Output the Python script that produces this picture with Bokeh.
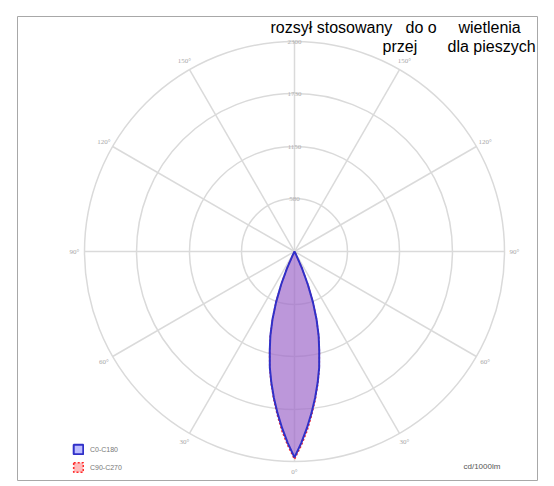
import numpy as np
from bokeh.plotting import figure
from bokeh.models import ColumnDataSource, Label, LabelSet, Range1d, Legend, LegendItem
from bokeh.embed import file_html
from bokeh.resources import INLINE

# ---- data ----
gamma_deg = [0, 2, 4, 6, 8, 10, 12, 14, 16, 18, 20, 22, 24, 26, 27]
i_c0_c180 = [2255, 2100, 1940, 1780, 1620, 1460, 1300, 1120, 960, 780, 590, 390, 200, 30, 0]
i_c90_c270 = [2275, 2125, 1970, 1800, 1635, 1470, 1305, 1125, 960, 780, 590, 390, 200, 30, 0]
ring_values = [580, 1150, 1730, 2300]
ring_labels = ["580", "1150", "1730", "2300"]
angle_values = [0, 30, 60, 90, 120, 150]
angle_labels = ["0°", "30°", "60°", "90°", "120°", "150°"]
series_names = ["C0-C180", "C90-C270"]
unit_label = "cd/1000lm"
title_line1 = ["rozsył stosowany", "do o", "wietlenia"]
title_line2 = ["przej", "dla pieszych"]

# ---- layout helpers (canvas pixel -> data) ----
R_PX = 210.0
K = ring_values[-1] / R_PX
CX, CY = 294.0, 251.0
def dx(px):
    return (px - CX) * K
def dy(py):
    return (CY - py) * K

W, H = 546, 482
FL, FT, FW, FH = 17, 16, 520, 464
p = figure(width=W, height=H, output_backend="svg", toolbar_location=None,
           x_range=Range1d(dx(FL), dx(FL + FW)), y_range=Range1d(dy(FT + FH), dy(FT)))
p.min_border_left = FL
p.min_border_top = FT
p.min_border_right = W - FL - FW
p.min_border_bottom = H - FT - FH
p.axis.visible = False
p.grid.visible = False
p.outline_line_color = "#a8a8a8"
p.outline_line_width = 1
p.background_fill_color = "white"
p.border_fill_color = "white"

grid_col = "#dadada"
# rings
p.circle(x=[0] * len(ring_values), y=[0] * len(ring_values), radius=ring_values,
         fill_color=None, line_color=grid_col, line_width=1.5)
# spokes
sp = np.radians(np.arange(0, 360, 30))
rmax = ring_values[-1]
p.segment(x0=[0] * len(sp), y0=[0] * len(sp), x1=list(rmax * np.sin(sp)), y1=list(-rmax * np.cos(sp)),
          line_color=grid_col, line_width=1.5)

# ring labels on the upward spoke
p.add_layout(LabelSet(source=ColumnDataSource(dict(x=[0] * 4, y=ring_values, t=ring_labels)),
                      x="x", y="y", text="t", text_align="center", text_baseline="middle",
                      text_font_size="7px", text_color="#b0b0b0", text_font="Liberation Sans"))

# angle labels both sides
R_LAB = 220 * K
ax, ay, at = [], [], []
for a, t in zip(angle_values, angle_labels):
    sides = [1] if a == 0 else [-1, 1]
    for s in sides:
        ax.append(s * R_LAB * np.sin(np.radians(a)))
        ay.append(-R_LAB * np.cos(np.radians(a)))
        at.append(t)
p.add_layout(LabelSet(source=ColumnDataSource(dict(x=ax, y=ay, t=at)), x="x", y="y", text="t",
                      text_align="center", text_baseline="middle", text_font_size="7px",
                      text_color="#a8a8a8", text_font="Liberation Sans"))

def lobe(g, i):
    g = np.radians(np.array(g, dtype=float))
    i = np.array(i, dtype=float)
    gg = np.concatenate([-g[::-1], g[1:]])
    ii = np.concatenate([i[::-1], i[1:]])
    return list(ii * np.sin(gg)), list(-ii * np.cos(gg))

x2, y2 = lobe(gamma_deg, i_c90_c270)
x1, y1 = lobe(gamma_deg, i_c0_c180)
r_red = p.patch(x2, y2, fill_color="#ff6a6a", fill_alpha=0.45, line_color="#ff2a2a",
                line_width=1.6, line_dash="2 2")
r_blue = p.patch(x1, y1, fill_color="#6a6aff", fill_alpha=0.45, line_color="#3030c8",
                 line_width=2)

leg = Legend(items=[LegendItem(label=series_names[0], renderers=[r_blue]),
                    LegendItem(label=series_names[1], renderers=[r_red])],
             location=(55, 7), orientation="vertical", padding=0, margin=0, spacing=6,
             glyph_width=12, glyph_height=12, label_height=12, label_standoff=6,
             label_text_font_size="7px", label_text_color="#777777", label_text_font="Liberation Sans",
             border_line_color=None, background_fill_alpha=0)
p.add_layout(leg)

p.add_layout(Label(x=dx(463), y=dy(466), text=unit_label, text_font_size="8px",
                   text_color="#555555", text_baseline="middle", text_font="Liberation Sans"))

for t, px in zip(title_line1, [270, 405, 458]):
    p.add_layout(Label(x=dx(px), y=dy(27), text=t, text_font_size="16px", text_color="black",
                       text_baseline="alphabetic", text_font="Liberation Sans"))
for t, px in zip(title_line2, [382, 447]):
    p.add_layout(Label(x=dx(px), y=dy(46), text=t, text_font_size="16px", text_color="black",
                       text_baseline="alphabetic", text_font="Liberation Sans"))

open("out.html", "w").write(file_html(p, INLINE))
